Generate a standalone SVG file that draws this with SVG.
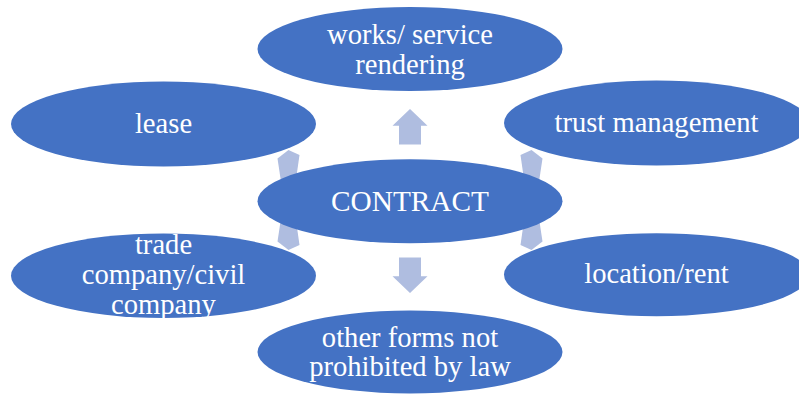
<svg xmlns="http://www.w3.org/2000/svg" width="799" height="394" viewBox="0 0 799 394">
  <style>
    .node ellipse { fill: #4472C4; }
    .node text { fill: #FFFFFF; font-family: 'Liberation Serif', 'DejaVu Serif', serif; font-size: 28.6px; text-anchor: middle; }
    .arrow { fill: #AFBDE0; }
  </style>
  <rect width="799" height="394" fill="#FFFFFF"/>
  <g id="connectors">
    <polygon class="arrow" points="410,109 427.5,125.7 421,125.7 421,144.5 399,144.5 399,125.7 392.5,125.7"/>
    <polygon class="arrow" points="410,293 427.5,276.3 421,276.3 421,257.5 399,257.5 399,276.3 392.5,276.3"/>
    <polygon id="arrow-ul" class="arrow" points="277.5,158.5 288.5,150 299.5,155 295.5,183 281.5,185"/>
    <polygon id="arrow-ll" class="arrow" points="277.5,158.5 288.5,150 299.5,155 295.5,183 281.5,185" transform="matrix(1,0,0,-1,0,400)"/>
    <polygon id="arrow-ur" class="arrow" points="277.5,158.5 288.5,150 299.5,155 295.5,183 281.5,185" transform="matrix(-1,0,0,1,820,0)"/>
    <polygon id="arrow-lr" class="arrow" points="277.5,158.5 288.5,150 299.5,155 295.5,183 281.5,185" transform="matrix(-1,0,0,-1,820,400)"/>
  </g>
  <g id="node-works" class="node">
    <ellipse cx="410" cy="49" rx="152.5" ry="42"/>
    <text x="410" y="43.5">works/ service</text>
    <text x="410" y="73.8">rendering</text>
  </g>
  <g id="node-lease" class="node">
    <ellipse cx="163.5" cy="124" rx="152.5" ry="42.5"/>
    <text x="163.5" y="132.5">lease</text>
  </g>
  <g id="node-trust" class="node">
    <ellipse cx="656.5" cy="123" rx="152.5" ry="42.5"/>
    <text x="656.5" y="132">trust management</text>
  </g>
  <g id="node-contract" class="node">
    <ellipse cx="410" cy="201.3" rx="152.5" ry="42"/>
    <text x="410" y="211" style="font-size:29.3px">CONTRACT</text>
  </g>
  <g id="node-trade" class="node">
    <ellipse cx="163.5" cy="275.7" rx="152.5" ry="42.3"/>
    <text x="163.5" y="254.3">trade</text>
    <text x="163.5" y="284.3">company/civil</text>
    <text x="163.5" y="314.3">company</text>
  </g>
  <g id="node-location" class="node">
    <ellipse cx="656.5" cy="274.7" rx="152.5" ry="41.5"/>
    <text x="656.5" y="283.3">location/rent</text>
  </g>
  <g id="node-other" class="node">
    <ellipse cx="410" cy="352" rx="152.5" ry="41.5"/>
    <text x="410" y="346.7">other forms not</text>
    <text x="410" y="376.2">prohibited by law</text>
  </g>
</svg>
